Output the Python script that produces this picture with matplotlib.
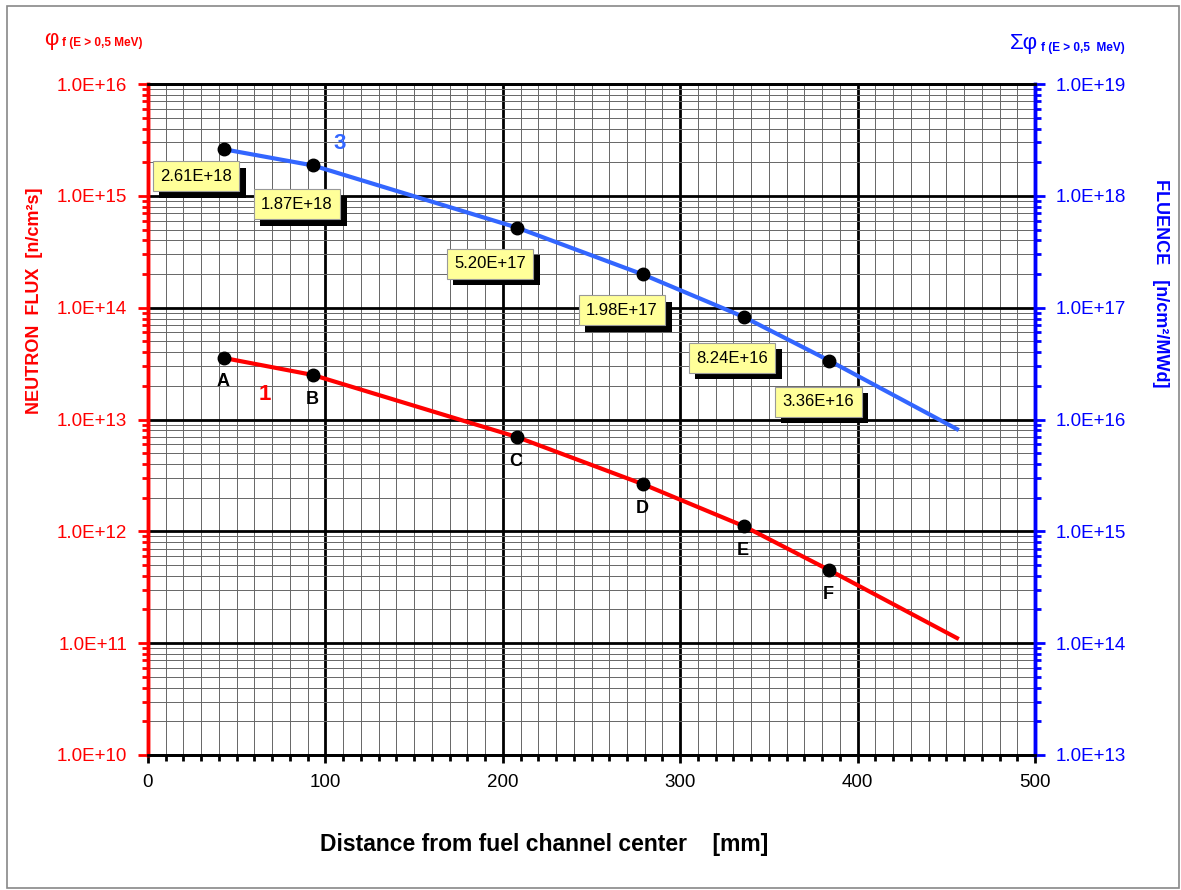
import matplotlib
matplotlib.use('Agg')
import matplotlib.pyplot as plt
from matplotlib.ticker import FuncFormatter, LogLocator, MultipleLocator, NullFormatter
from matplotlib.patches import Rectangle
import matplotlib.patheffects as pe
import numpy as np

plt.rcParams['font.family'] = ['Liberation Sans', 'DejaVu Sans']

# Flux (curve 1, left axis)
flux_x = [42.8, 93, 208, 279, 336, 384]
flux_y = [3.55e13, 2.5e13, 6.97e12, 2.64e12, 1.11e12, 4.5e11]
flux_names = ['A', 'B', 'C', 'D', 'E', 'F']
flux_end_x = 456
flux_end_y = 1.11e11

# Fluence (curve 3, right axis)
fluence_x = [42.8, 93, 208, 279, 336, 384]
fluence_y = [2.61e18, 1.87e18, 5.20e17, 1.98e17, 8.24e16, 3.36e16]
fluence_labels = ['2.61E+18', '1.87E+18', '5.20E+17', '1.98E+17', '8.24E+16', '3.36E+16']
fluence_end_x = 456
fluence_end_y = 8.2e15

RED = '#FF0000'
BLUE = '#3366FF'
AXBLUE = '#0000FF'

fig = plt.figure(figsize=(11.81, 8.90), dpi=100)
ax = fig.add_axes([0.1253, 0.1517, 0.7511, 0.7539])
ax2 = ax.twinx()

def sci(v, pos):
    e = int(round(np.log10(v)))
    return '1.0E+%d' % e

# left axis
ax.set_yscale('log')
ax.set_ylim(1e10, 1e16)
ax.set_xlim(0, 500)
ax.xaxis.set_major_locator(MultipleLocator(100))
ax.xaxis.set_minor_locator(MultipleLocator(10))
ax.yaxis.set_major_locator(LogLocator(base=10, numticks=10))
ax.yaxis.set_minor_locator(LogLocator(base=10, subs=np.arange(2, 10), numticks=20))
ax.yaxis.set_major_formatter(FuncFormatter(sci))
ax.yaxis.set_minor_formatter(NullFormatter())

ax.grid(which='minor', axis='both', color='#666666', lw=0.7)
ax.grid(which='major', axis='both', color='black', lw=2)
ax.set_axisbelow(True)

ax.tick_params(axis='y', which='major', colors=RED, labelsize=13.5, length=7, width=2, direction='out', pad=8)
ax.tick_params(axis='y', which='minor', colors=RED, length=4, width=2, direction='out')
ax.tick_params(axis='x', which='major', colors='black', labelsize=13.5, length=6, width=2, direction='out', pad=8)
ax.tick_params(axis='x', which='minor', colors='black', length=4, width=2, direction='out')

# right axis
ax2.set_yscale('log')
ax2.set_ylim(1e13, 1e19)
ax2.yaxis.set_major_locator(LogLocator(base=10, numticks=10))
ax2.yaxis.set_minor_locator(LogLocator(base=10, subs=np.arange(2, 10), numticks=20))
ax2.yaxis.set_major_formatter(FuncFormatter(sci))
ax2.yaxis.set_minor_formatter(NullFormatter())
ax2.tick_params(axis='y', which='major', colors=AXBLUE, labelsize=13.5, length=7, width=2, direction='out', pad=8)
ax2.tick_params(axis='y', which='minor', colors=AXBLUE, length=4, width=2, direction='out')

for a in (ax, ax2):
    a.spines['left'].set_color(RED)
    a.spines['left'].set_linewidth(2.5)
    a.spines['right'].set_color(AXBLUE)
    a.spines['right'].set_linewidth(2.5)
    a.spines['top'].set_color('black')
    a.spines['top'].set_linewidth(2)
    a.spines['bottom'].set_color('black')
    a.spines['bottom'].set_linewidth(2)

# curve 1
ax.plot(flux_x + [flux_end_x], flux_y + [flux_end_y], color=RED, lw=3, zorder=3)
ax.plot(flux_x, flux_y, 'o', color='black', ms=9, zorder=4)
for x, y, n in zip(flux_x, flux_y, flux_names):
    ax.annotate(n, (x, y), xytext=(-1, -24), textcoords='offset pixels',
                ha='center', va='center', fontsize=13, fontweight='bold', zorder=5)

# curve 3
ax2.plot(fluence_x + [fluence_end_x], fluence_y + [fluence_end_y], color=BLUE, lw=3, zorder=3)
ax2.plot(fluence_x, fluence_y, 'o', color='black', ms=9, zorder=4)
box_offsets = [(-28, -27), (-16, -39), (-27, -36), (-21, -36), (-12, -41), (-11, -41)]
for x, y, lab, (dx, dy) in zip(fluence_x, fluence_y, fluence_labels, box_offsets):
    t = ax2.annotate(lab, (x, y), xytext=(dx, dy), textcoords='offset pixels',
                     ha='center', va='center', fontsize=12, color='black', zorder=6,
                     bbox=dict(boxstyle='square,pad=0.45', facecolor='#FFFF99',
                               edgecolor='#999999', lw=0.8))
    t.get_bbox_patch().set_path_effects([
        pe.SimplePatchShadow(offset=(4.5, -4.5), shadow_rgbFace='black', alpha=1.0),
        pe.Normal()])

ax.annotate('1', (42.8, 3.55e13), xytext=(41, -37), textcoords='offset pixels',
            color=RED, fontsize=16, fontweight='bold', ha='center', va='center', zorder=5)
ax2.annotate('3', (93, 1.87e18), xytext=(27, 22), textcoords='offset pixels',
             color=BLUE, fontsize=16, fontweight='bold', ha='center', va='center', zorder=5)

# axis titles
fig.text(35 / 1181, 1 - 301 / 890, 'NEUTRON  FLUX  [n/cm\u00b2s]', color=RED, fontsize=13,
         fontweight='bold', rotation=90, ha='center', va='center')
fig.text(1160 / 1181, 1 - 283 / 890, 'FLUENCE   [n/cm\u00b2/MWd]', color=AXBLUE, fontsize=13,
         fontweight='bold', rotation=270, ha='center', va='center')
fig.text(44 / 1181, 1 - 39 / 890, '\u03c6', color=RED, fontsize=16, ha='left', va='center')
fig.text(62 / 1181, 1 - 43 / 890, 'f (E > 0,5 MeV)', color=RED, fontsize=8.5,
         fontweight='bold', ha='left', va='center')
fig.text(1010 / 1181, 1 - 44 / 890, '\u03a3\u03c6', color=AXBLUE, fontsize=16, ha='left', va='center')
fig.text(1041 / 1181, 1 - 48 / 890, 'f (E > 0,5  MeV)', color=AXBLUE, fontsize=8.5,
         fontweight='bold', ha='left', va='center')
fig.text(544 / 1181, 1 - 845 / 890, 'Distance from fuel channel center    [mm]', color='black',
         fontsize=16.5, fontweight='bold', ha='center', va='center')

fig.patches.append(Rectangle((7 / 1181, 0.002), 1 - 7 / 1181 - 0.002, 1 - 6 / 890 - 0.002,
                             transform=fig.transFigure, fill=False, edgecolor='#888888', lw=1.2))

fig.savefig('out.png', dpi=100)
